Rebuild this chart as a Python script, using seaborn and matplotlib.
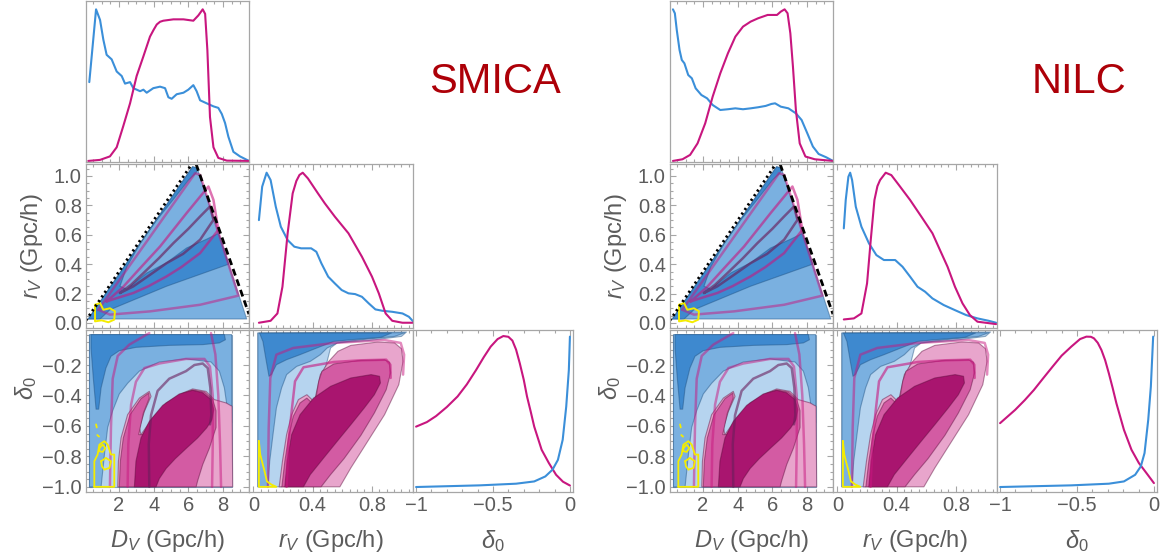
import matplotlib
matplotlib.use("Agg")
import matplotlib.pyplot as plt
from matplotlib.ticker import MultipleLocator, FixedLocator, FuncFormatter, NullLocator
from matplotlib.colors import to_rgba
import seaborn as sns

sns.set_theme(style="ticks")
plt.rcParams["font.family"] = ["Liberation Sans", "DejaVu Sans"]
plt.rcParams["mathtext.fontset"] = "custom"
plt.rcParams["mathtext.rm"] = "Liberation Sans"
plt.rcParams["mathtext.it"] = "Liberation Sans:italic"

# ---------------- 1D marginals ----------------
SMICA_DV_BLUE_X = [0.29, 0.68, 0.91, 1.1, 1.29, 1.58, 1.87, 2.16, 2.35, 2.64, 2.83, 3.22, 3.41, 3.6, 3.98, 4.37, 4.66,
                   4.85, 5.04, 5.33, 5.72, 6.0, 6.29, 6.48, 6.68, 7.06, 7.45, 7.73, 7.93, 8.12, 8.31, 8.6, 8.98, 9.5]
SMICA_DV_BLUE_Y = [0.52, 1.0, 0.93, 0.80, 0.70, 0.67, 0.59, 0.56, 0.51, 0.52, 0.48, 0.46, 0.47, 0.45, 0.48, 0.49, 0.48,
                   0.42, 0.41, 0.44, 0.45, 0.47, 0.50, 0.46, 0.40, 0.38, 0.36, 0.35, 0.31, 0.25, 0.16, 0.06, 0.03, 0.0]
SMICA_DV_MAG_X = [0.23, 0.91, 1.48, 1.87, 2.25, 2.64, 3.02, 3.41, 3.79, 4.0, 4.18, 4.37, 4.56, 5.14, 5.72, 6.29, 6.58,
                  6.83, 6.97, 7.1, 7.25, 7.45, 7.73, 8.22, 9.5]
SMICA_DV_MAG_Y = [0.0, 0.007, 0.03, 0.09, 0.23, 0.38, 0.56, 0.69, 0.82, 0.865, 0.90, 0.918, 0.925, 0.934, 0.934, 0.925,
                  0.96, 1.0, 0.97, 0.73, 0.29, 0.09, 0.02, 0.002, 0.0]
SMICA_RV_BLUE_X = [0.037, 0.059, 0.089, 0.116, 0.151, 0.185, 0.231, 0.276, 0.322, 0.39, 0.425, 0.459, 0.505, 0.55, 0.596,
                   0.642, 0.687, 0.733, 0.779, 0.824, 0.87, 0.938, 1.007, 1.05, 1.078]
SMICA_RV_BLUE_Y = [0.684, 0.907, 1.0, 0.951, 0.773, 0.64, 0.551, 0.507, 0.496, 0.496, 0.473, 0.396, 0.307, 0.262, 0.218,
                   0.196, 0.191, 0.173, 0.129, 0.089, 0.08, 0.073, 0.062, 0.04, 0.01]
SMICA_RV_MAG_X = [0.037, 0.116, 0.162, 0.196, 0.231, 0.265, 0.29, 0.311, 0.333, 0.368, 0.436, 0.482, 0.55, 0.642, 0.733,
                  0.801, 0.847, 0.893, 0.938, 1.007, 1.078]
SMICA_RV_MAG_Y = [0.0, 0.013, 0.062, 0.24, 0.596, 0.862, 0.945, 0.985, 1.0, 0.962, 0.862, 0.796, 0.707, 0.596, 0.44,
                  0.307, 0.196, 0.062, 0.013, 0.0, 0.0]
SMICA_D0_MAG_X = [-1.0, -0.93, -0.87, -0.80, -0.73, -0.67, -0.61, -0.56, -0.515, -0.47, -0.433, -0.40, -0.374, -0.35,
                  -0.326, -0.30, -0.279, -0.255, -0.232, -0.184, -0.137, -0.09, -0.045, 0.0]
SMICA_D0_MAG_Y = [0.40, 0.43, 0.47, 0.53, 0.60, 0.68, 0.775, 0.86, 0.93, 0.98, 1.0, 0.995, 0.97, 0.91, 0.82, 0.71, 0.60,
                  0.50, 0.40, 0.247, 0.159, 0.081, 0.035, 0.01]
SMICA_D0_BLUE_X = [-1.0, -0.586, -0.35, -0.232, -0.16, -0.113, -0.078, -0.047, -0.024, -0.007, 0.0]
SMICA_D0_BLUE_Y = [0.0, 0.011, 0.022, 0.037, 0.07, 0.115, 0.18, 0.313, 0.533, 0.775, 0.996]

NILC_DV_BLUE_X = [0.27, 0.38, 0.49, 0.65, 0.78, 0.93, 1.15, 1.36, 1.58, 1.91, 2.24, 2.56, 3.0, 3.44, 3.87, 4.31, 4.75,
                  5.18, 5.62, 5.95, 6.16, 6.49, 6.93, 7.36, 7.69, 8.02, 8.34, 8.67, 9.11, 9.5]
NILC_DV_BLUE_Y = [1.0, 0.974, 0.864, 0.732, 0.666, 0.644, 0.567, 0.545, 0.479, 0.435, 0.413, 0.369, 0.336, 0.341, 0.347,
                  0.341, 0.347, 0.354, 0.363, 0.376, 0.38, 0.358, 0.347, 0.314, 0.27, 0.182, 0.095, 0.046, 0.024, 0.0]
NILC_DV_MAG_X = [0.27, 0.82, 1.26, 1.69, 2.13, 2.56, 3.0, 3.44, 3.87, 4.31, 4.75, 5.18, 5.73, 6.27, 6.49, 6.71, 6.88,
                 7.04, 7.19, 7.36, 7.58, 7.91, 8.45, 9.5]
NILC_DV_MAG_Y = [0.0, 0.011, 0.04, 0.116, 0.248, 0.424, 0.578, 0.71, 0.82, 0.886, 0.919, 0.941, 0.963, 0.963, 0.985,
                 1.0, 0.974, 0.842, 0.622, 0.336, 0.116, 0.029, 0.011, 0.0]
NILC_RV_BLUE_X = [0.043, 0.056, 0.074, 0.086, 0.099, 0.124, 0.162, 0.213, 0.263, 0.314, 0.39, 0.44, 0.491, 0.541, 0.592,
                  0.642, 0.718, 0.794, 0.87, 0.946, 1.022, 1.072]
NILC_RV_BLUE_Y = [0.629, 0.818, 0.973, 1.0, 0.951, 0.773, 0.64, 0.529, 0.451, 0.418, 0.418, 0.373, 0.307, 0.24, 0.207,
                  0.162, 0.118, 0.084, 0.051, 0.029, 0.013, 0.0]
NILC_RV_MAG_X = [0.043, 0.111, 0.162, 0.2, 0.225, 0.25, 0.27, 0.288, 0.326, 0.364, 0.415, 0.491, 0.567, 0.642, 0.693,
                 0.744, 0.794, 0.845, 0.895, 0.946, 1.072]
NILC_RV_MAG_Y = [0.022, 0.029, 0.062, 0.262, 0.551, 0.818, 0.91, 0.951, 1.0, 0.984, 0.918, 0.818, 0.707, 0.596, 0.484,
                 0.373, 0.24, 0.129, 0.051, 0.007, -0.009]
NILC_D0_MAG_X = [-1.0, -0.902, -0.84, -0.78, -0.72, -0.659, -0.6, -0.537, -0.48, -0.439, -0.41, -0.39, -0.365, -0.341,
                 -0.317, -0.293, -0.268, -0.244, -0.195, -0.146, -0.098, -0.049, 0.0]
NILC_D0_MAG_Y = [0.423, 0.511, 0.575, 0.643, 0.72, 0.797, 0.87, 0.93, 0.98, 0.996, 0.995, 0.985, 0.955, 0.907, 0.84,
                 0.753, 0.655, 0.555, 0.379, 0.247, 0.159, 0.093, 0.026]
NILC_D0_BLUE_X = [-1.0, -0.537, -0.293, -0.195, -0.122, -0.085, -0.061, -0.037, -0.02, -0.005]
NILC_D0_BLUE_Y = [0.0, 0.011, 0.022, 0.037, 0.081, 0.137, 0.225, 0.445, 0.665, 0.996]

# ---------------- 2D contours (vertices) ----------------
# r_V vs D_V
TRI_BLUE = [(0.23, 0.027), (6.25, 1.063), (6.52, 1.052), (9.37, 0.027)]
TRI_BLUE_DARK = [(0.23, 0.027), (6.25, 1.063), (6.52, 1.052), (6.45, 1.02), (6.0, 0.97), (5.14, 0.84), (4.18, 0.70),
                 (3.22, 0.54), (2.45, 0.38), (2.06, 0.25), (2.45, 0.23), (3.6, 0.34), (4.75, 0.41), (5.9, 0.51),
                 (7.06, 0.57), (7.75, 0.61), (8.33, 0.40), (4.75, 0.25), (1.48, 0.09), (0.91, 0.027)]
TRI_MAG_A = [(0.81, 0.09), (6.39, 1.018), (6.68, 1.007), (8.89, 0.186), (6.68, 0.124), (3.79, 0.079), (1.48, 0.057),
             (0.81, 0.09)]
TRI_MAG_B = [(1.29, 0.147), (2.2, 0.24), (3.2, 0.37), (4.37, 0.52), (5.9, 0.747), (7.16, 0.928), (7.45, 0.837),
             (7.73, 0.633), (6.68, 0.475), (5.6, 0.38), (4.75, 0.317), (3.7, 0.25), (2.83, 0.204), (1.9, 0.17),
             (1.29, 0.147)]
TRI_MAG_C = [(2.06, 0.204), (2.7, 0.26), (3.41, 0.339), (4.3, 0.44), (5.14, 0.543), (6.0, 0.64), (6.68, 0.724),
             (7.25, 0.792), (7.45, 0.701), (6.68, 0.566), (5.7, 0.47), (4.75, 0.407), (3.7, 0.32), (2.83, 0.249),
             (2.06, 0.204)]
TRI_YELLOW = [(0.62, 0.124), (0.91, 0.136), (1.1, 0.09), (1.48, 0.10), (1.77, 0.08), (1.73, 0.023), (1.39, 0.005),
              (1.0, 0.018), (0.62, 0.011), (0.62, 0.124)]
DOTTED_D = [0.1, 6.2]
DOTTED_R = [0.018, 1.08]
DASHED_D = [6.45, 9.5]
DASHED_R = [1.08, 0.06]

# delta_0 vs D_V
DVD0_BLUE_1 = [(0.3, 0.0), (8.5, 0.0), (8.5, -1.0), (0.3, -1.0)]
DVD0_BLUE_2 = [(0.3, 0.0), (8.5, 0.0), (8.5, -0.58), (8.27, -0.50), (8.08, -0.35), (7.79, -0.24), (7.31, -0.18),
               (5.87, -0.16), (4.33, -0.18), (3.18, -0.24), (2.5, -0.32), (2.02, -0.39), (1.64, -0.50), (1.35, -0.61),
               (1.16, -0.79), (0.97, -1.0), (0.3, -1.0)]
DVD0_BLUE_3 = [(0.39, 0.0), (8.08, 0.0), (8.14, -0.034), (7.79, -0.055), (6.83, -0.066), (4.9, -0.071), (2.98, -0.084),
               (2.02, -0.106), (1.54, -0.143), (1.25, -0.22), (0.97, -0.35), (0.83, -0.49), (0.68, -0.49),
               (0.52, -0.285), (0.39, -0.088)]
DVD0_PINK_1 = [(1.93, -1.0), (1.97, -0.832), (2.12, -0.679), (2.5, -0.526), (3.18, -0.417), (3.75, -0.373),
               (3.85, -0.406), (3.47, -0.504), (3.18, -0.613), (3.27, -0.657), (3.95, -0.548), (4.72, -0.449),
               (5.68, -0.384), (6.25, -0.357), (7.02, -0.373), (7.5, -0.427), (8.18, -0.449), (8.52, -0.471),
               (8.56, -1.0)]
DVD0_PINK_2 = [(2.02, -1.0), (2.08, -0.832), (2.25, -0.679), (2.64, -0.526), (3.27, -0.421), (3.72, -0.384),
               (3.75, -0.417), (3.41, -0.515), (3.14, -0.657), (3.37, -0.657), (3.95, -0.559), (4.72, -0.456),
               (5.68, -0.388), (6.25, -0.364), (6.93, -0.377), (7.41, -0.427), (7.6, -0.5), (7.6, -0.61),
               (7.22, -0.745), (6.83, -0.854), (6.54, -0.96), (6.45, -1.0)]
DVD0_PINK_3 = [(2.89, -1.0), (2.98, -0.832), (3.27, -0.679), (3.75, -0.57), (4.52, -0.465), (5.48, -0.39),
               (6.25, -0.366), (6.83, -0.382), (7.31, -0.427), (7.47, -0.493), (7.37, -0.559), (7.06, -0.613),
               (6.54, -0.679), (5.87, -0.749), (5.25, -0.815), (4.72, -0.88), (4.33, -0.946), (4.14, -1.0)]
DVD0_MAG_LEFT = [(1.48, -1.0), (1.54, -0.61), (1.64, -0.29), (1.93, -0.14), (2.6, -0.066), (3.75, 0.01)]
DVD0_MAG_RIGHT = [(7.31, 0.01), (7.56, -0.13), (7.73, -0.4), (7.83, -0.72), (7.89, -1.0)]
DVD0_MAG_MID = [(2.5, -1.0), (2.54, -0.72), (2.7, -0.46), (2.98, -0.31), (3.47, -0.22), (4.33, -0.19), (5.87, -0.16),
                (6.93, -0.16), (7.25, -0.21), (7.41, -0.4), (7.41, -0.72), (7.37, -1.0)]
DVD0_MAG_IN = [(3.75, -1.0), (3.72, -0.72), (3.85, -0.53), (4.23, -0.37), (4.9, -0.29), (5.87, -0.24), (6.35, -0.2),
               (6.83, -0.19), (7.12, -0.22), (7.27, -0.35), (7.33, -0.53), (7.25, -0.59)]
DVD0_YELLOW = [[(0.58, -1.0), (0.58, -0.832), (0.77, -0.788), (0.87, -0.723), (1.16, -0.70), (1.35, -0.723),
                (1.54, -0.788), (1.73, -0.788), (1.73, -1.0), (0.58, -1.0)],
               [(0.87, -0.745), (1.06, -0.723), (1.22, -0.745), (1.06, -0.771), (0.87, -0.766), (0.87, -0.745)],
               [(0.97, -0.832), (1.25, -0.81), (1.54, -0.832), (1.45, -0.876), (1.16, -0.887), (1.02, -0.865),
                (0.97, -0.832)],
               [(0.68, -0.59), (0.72, -0.61)], [(0.75, -0.66), (0.85, -0.67)]]

# delta_0 vs r_V
RVD0_BLUE_1 = [(0.03, 0.01), (1.034, 0.017), (1.0, -0.012), (0.772, -0.04), (0.566, -0.055), (0.521, -0.088),
               (0.498, -0.176), (0.463, -0.285), (0.429, -0.395), (0.406, -0.482), (0.361, -0.526), (0.315, -0.592),
               (0.269, -0.701), (0.224, -0.832), (0.19, -1.0), (0.03, -1.0)]
RVD0_BLUE_2 = [(0.03, 0.01), (1.023, 0.012), (0.954, -0.012), (0.726, -0.034), (0.566, -0.055), (0.498, -0.088),
               (0.452, -0.132), (0.384, -0.176), (0.292, -0.209), (0.224, -0.263), (0.19, -0.351), (0.155, -0.482),
               (0.132, -0.657), (0.11, -0.832), (0.098, -1.0), (0.03, -1.0)]
RVD0_BLUE_3 = [(0.041, 0.01), (0.932, 0.01), (0.863, -0.018), (0.658, -0.034), (0.543, -0.045), (0.429, -0.088),
               (0.315, -0.132), (0.224, -0.165), (0.155, -0.198), (0.121, -0.263), (0.105, -0.274), (0.087, -0.176),
               (0.064, -0.045)]
RVD0_PINK_1 = [(0.174, -1.0), (0.196, -0.832), (0.224, -0.657), (0.258, -0.526), (0.304, -0.427), (0.361, -0.395),
               (0.395, -0.427), (0.406, -0.482), (0.422, -0.395), (0.452, -0.263), (0.509, -0.176), (0.571, -0.11),
               (0.658, -0.071), (0.84, -0.049), (0.954, -0.055), (1.0, -0.093), (1.011, -0.176), (0.982, -0.329),
               (0.886, -0.526), (0.772, -0.701), (0.658, -0.876), (0.584, -1.0)]
RVD0_PINK_2 = [(0.192, -1.0), (0.212, -0.832), (0.24, -0.657), (0.269, -0.537), (0.315, -0.449), (0.361, -0.417),
               (0.395, -0.449), (0.406, -0.482), (0.422, -0.417), (0.441, -0.307), (0.463, -0.241), (0.543, -0.193),
               (0.703, -0.171), (0.886, -0.165), (0.92, -0.182), (0.927, -0.252), (0.897, -0.362), (0.817, -0.515),
               (0.726, -0.662), (0.612, -0.815), (0.521, -0.92), (0.457, -1.0)]
RVD0_PINK_3 = [(0.212, -1.0), (0.228, -0.832), (0.258, -0.657), (0.315, -0.526), (0.406, -0.417), (0.521, -0.34),
               (0.658, -0.285), (0.795, -0.263), (0.852, -0.274), (0.858, -0.318), (0.817, -0.395), (0.749, -0.482),
               (0.658, -0.592), (0.566, -0.701), (0.475, -0.81), (0.384, -0.92), (0.338, -1.0)]
RVD0_MAG_OUT = [(0.098, -1.0), (0.103, -0.613), (0.114, -0.285), (0.155, -0.132), (0.269, -0.088), (0.543, -0.055),
                (0.886, -0.036), (0.995, -0.055), (1.018, -0.132), (1.011, -0.263)]
RVD0_MAG_MID = [(0.224, -1.0), (0.235, -0.723), (0.258, -0.504), (0.281, -0.307), (0.338, -0.215), (0.543, -0.18),
                (0.726, -0.169), (0.897, -0.165), (0.925, -0.198), (0.927, -0.285)]
RVD0_YELLOW = [(0.037, -0.70), (0.046, -0.788), (0.075, -0.898), (0.091, -0.964), (0.121, -0.985), (0.155, -1.0),
               (0.037, -1.0), (0.037, -0.70)]

# ---------------- styling ----------------
BLUE, MAG = "#3b8fd9", "#c8167f"
BLUE_FILLS = ["#b6d4ef", "#7ab0e0", "#3e89cf"]
PINK_FILLS = ["#e8a5cc", "#d35ba3", "#a9156f"]
GREY_TXT, GREY_FRAME = "#5c5c5c", "#a6a6a6"
W, H = 1172, 559
COLS = [(86, 249), (249, 413), (413, 573)]
ROWS = [(1, 162), (164, 328), (330, 492)]
DV_LIM, RV_LIM, D0_LIM = (0.1, 9.5), (-0.03, 1.078), (-1.034, 0.03)

fig = plt.figure(figsize=(W / 100, H / 100), dpi=100)


def add_panel(x0, col, row):
    l, r = COLS[col]
    t, b = ROWS[row]
    return fig.add_axes([(x0 + l) / W, 1 - b / H, (r - l) / W, (b - t) / H])


def fmt_num(v, p):
    s = "0" if abs(v) < 1e-9 else f"{v:g}"
    return s.replace("-", "\u2212")


def fmt_1d(v, p):
    return f"{v:.1f}".replace("-", "\u2212")


def dress(ax, xlim, ylim, xmaj, xminor, ymaj=None, yminor=None, yfmt=None, xlabels=False):
    ax.set_xlim(*xlim)
    ax.set_ylim(*ylim)
    ax.xaxis.set_major_locator(FixedLocator(xmaj))
    ax.xaxis.set_minor_locator(MultipleLocator(xminor))
    ax.xaxis.set_major_formatter(FuncFormatter(fmt_num))
    if ymaj is None:
        ax.yaxis.set_major_locator(NullLocator())
        ax.yaxis.set_minor_locator(NullLocator())
    else:
        ax.yaxis.set_major_locator(FixedLocator(ymaj))
        ax.yaxis.set_minor_locator(MultipleLocator(yminor))
        ax.yaxis.set_major_formatter(FuncFormatter(yfmt))
    ax.tick_params(which="both", direction="in", top=True, right=True, color=GREY_FRAME,
                   labelcolor=GREY_TXT, labelsize=14.5, width=0.8, pad=3)
    ax.tick_params(which="major", length=4.5)
    ax.tick_params(which="minor", length=2.5)
    ax.tick_params(labelbottom=xlabels, labelleft=ymaj is not None)
    ax.set_xlabel("")
    ax.set_ylabel("")
    for s in ax.spines.values():
        s.set_color(GREY_FRAME)
        s.set_linewidth(0.9)


def curve(ax, xs, ys, color, lw=1.5, alpha=1.0, ls="-"):
    sns.lineplot(x=list(xs), y=list(ys), ax=ax, color=color, lw=lw, alpha=alpha, sort=False,
                 estimator=None, legend=False, linestyle=ls, solid_joinstyle="round")


def path(ax, pts, color, lw=1.5, alpha=1.0, ls="-"):
    xs, ys = zip(*pts)
    curve(ax, xs, ys, color, lw, alpha, ls)


def fill_levels(ax, polys, colors, edge):
    for poly, c in zip(polys, colors):
        xs, ys = zip(*poly)
        ax.fill(xs, ys, facecolor=c, edgecolor=to_rgba(edge, 0.45), lw=0.8, joinstyle="round")


D_TICKS = [2, 4, 6, 8]
R_TICKS = [0, 0.4, 0.8]
D0X_TICKS = [-1, -0.5, 0]
RY_TICKS = [0.0, 0.2, 0.4, 0.6, 0.8, 1.0]
D0Y_TICKS = [-1.0, -0.8, -0.6, -0.4, -0.2]
LABEL_KW = dict(ha="center", va="center", fontsize=17, color=GREY_TXT)


def corner(x0, title, d):
    # D_V marginal
    ax = add_panel(x0, 0, 0)
    curve(ax, *d["dv_blue"], BLUE)
    curve(ax, *d["dv_mag"], MAG)
    dress(ax, DV_LIM, (-0.007, 1.055), D_TICKS, 0.5)

    # r_V vs D_V
    ax = add_panel(x0, 0, 1)
    fill_levels(ax, [TRI_BLUE, TRI_BLUE_DARK], BLUE_FILLS[1:], "#1d4f80")
    path(ax, TRI_MAG_A, MAG, 1.8, 0.5)
    path(ax, TRI_MAG_B, MAG, 1.8, 0.6)
    path(ax, TRI_MAG_C, "#6a1f5c", 1.8, 0.65)
    path(ax, TRI_YELLOW, "#f4ec00", 1.4)
    curve(ax, DOTTED_D, DOTTED_R, "black", 2.0, ls=(0, (0.8, 1.2)))
    curve(ax, DASHED_D, DASHED_R, "black", 2.0, ls=(0, (2.5, 1.5)))
    dress(ax, DV_LIM, (-0.034, 1.081), D_TICKS, 0.5, RY_TICKS, 0.05, fmt_1d)

    # r_V marginal
    ax = add_panel(x0, 1, 1)
    curve(ax, *d["rv_blue"], BLUE)
    curve(ax, *d["rv_mag"], MAG)
    dress(ax, RV_LIM, (-0.035, 1.058), R_TICKS, 0.05)

    # delta_0 vs D_V
    ax = add_panel(x0, 0, 2)
    fill_levels(ax, [DVD0_BLUE_1, DVD0_BLUE_2, DVD0_BLUE_3], BLUE_FILLS, "#1d4f80")
    fill_levels(ax, [DVD0_PINK_1, DVD0_PINK_2, DVD0_PINK_3], PINK_FILLS, "#5a0a3a")
    for p in (DVD0_MAG_LEFT, DVD0_MAG_RIGHT, DVD0_MAG_MID):
        path(ax, p, MAG, 1.8, 0.5)
    path(ax, DVD0_MAG_IN, "#6a1f5c", 1.8, 0.6)
    for p in DVD0_YELLOW:
        path(ax, p, "#f4ec00", 1.3)
    dress(ax, DV_LIM, D0_LIM, D_TICKS, 0.5, D0Y_TICKS, 0.05, fmt_1d, xlabels=True)

    # delta_0 vs r_V
    ax = add_panel(x0, 1, 2)
    fill_levels(ax, [RVD0_BLUE_1, RVD0_BLUE_2, RVD0_BLUE_3], BLUE_FILLS, "#1d4f80")
    fill_levels(ax, [RVD0_PINK_1, RVD0_PINK_2, RVD0_PINK_3], PINK_FILLS, "#5a0a3a")
    path(ax, RVD0_MAG_OUT, MAG, 1.8, 0.5)
    path(ax, RVD0_MAG_MID, MAG, 1.8, 0.6)
    path(ax, RVD0_YELLOW, "#f4ec00", 1.3)
    dress(ax, RV_LIM, D0_LIM, R_TICKS, 0.05, xlabels=True)

    # delta_0 marginal
    ax = add_panel(x0, 2, 2)
    curve(ax, *d["d0_mag"], MAG)
    curve(ax, *d["d0_blue"], BLUE)
    dress(ax, (-1.02, 0.02), (-0.033, 1.04), D0X_TICKS, 0.1, xlabels=True)

    # labels
    fig.text((x0 + 167.5) / W, 1 - 541 / H, r"$D_V$ (Gpc/h)", **LABEL_KW)
    fig.text((x0 + 331) / W, 1 - 541 / H, r"$r_V$ (Gpc/h)", **LABEL_KW)
    fig.text((x0 + 493) / W, 1 - 541 / H, r"$\delta_0$", **LABEL_KW)
    fig.text((x0 + 32) / W, 1 - 246 / H, r"$r_V$ (Gpc/h)", rotation=90, **LABEL_KW)
    fig.text((x0 + 26) / W, 1 - 388 / H, r"$\delta_0$", rotation=90, **LABEL_KW)
    fig.text((x0 + 495) / W, 1 - 82 / H, title, ha="center", va="center",
             fontsize=30, color="#ad0008")


SMICA = {
    "dv_blue": (SMICA_DV_BLUE_X, SMICA_DV_BLUE_Y), "dv_mag": (SMICA_DV_MAG_X, SMICA_DV_MAG_Y),
    "rv_blue": (SMICA_RV_BLUE_X, SMICA_RV_BLUE_Y), "rv_mag": (SMICA_RV_MAG_X, SMICA_RV_MAG_Y),
    "d0_blue": (SMICA_D0_BLUE_X, SMICA_D0_BLUE_Y), "d0_mag": (SMICA_D0_MAG_X, SMICA_D0_MAG_Y),
}
NILC = {
    "dv_blue": (NILC_DV_BLUE_X, NILC_DV_BLUE_Y), "dv_mag": (NILC_DV_MAG_X, NILC_DV_MAG_Y),
    "rv_blue": (NILC_RV_BLUE_X, NILC_RV_BLUE_Y), "rv_mag": (NILC_RV_MAG_X, NILC_RV_MAG_Y),
    "d0_blue": (NILC_D0_BLUE_X, NILC_D0_BLUE_Y), "d0_mag": (NILC_D0_MAG_X, NILC_D0_MAG_Y),
}

corner(0, "SMICA", SMICA)
corner(584, "NILC", NILC)

fig.savefig("out.png", dpi=100, facecolor="white")
